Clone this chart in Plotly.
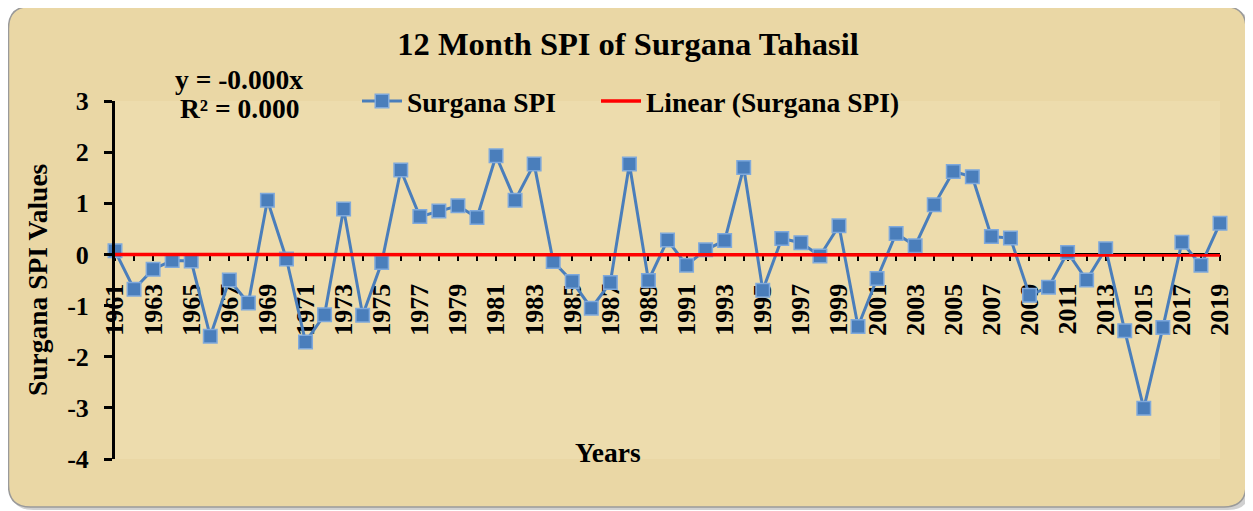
import numpy as np
import plotly.graph_objects as go

years = list(range(1961, 2020))
spi = [0.07, -0.68, -0.29, -0.12, -0.13, -1.60, -0.50, -0.95, 1.06, -0.09,
       -1.71, -1.18, 0.89, -1.19, -0.16, 1.65, 0.74, 0.85, 0.95, 0.72,
       1.93, 1.06, 1.77, -0.14, -0.53, -1.05, -0.55, 1.77, -0.51, 0.28,
       -0.21, 0.09, 0.27, 1.70, -0.70, 0.31, 0.23, -0.03, 0.56, -1.41,
       -0.47, 0.41, 0.17, 0.97, 1.62, 1.52, 0.35, 0.32, -0.80, -0.64,
       0.04, -0.50, 0.11, -1.49, -3.01, -1.43, 0.24, -0.21, 0.61]
y_ticks = [-4, -3, -2, -1, 0, 1, 2, 3]
y_tick_labels = ["-4", "-3", "-2", "-1", "0", "1", "2", "3"]

title_text = "12 Month SPI of Surgana Tahasil"
series_name = "Surgana SPI"
trend_name = "Linear (Surgana SPI)"
y_title = "Surgana SPI Values"
x_title = "Years"
eq_line1 = "y = -0.000x"
eq_line2 = "R² = 0.000"

# Linear trend through origin (Excel style, x = 1..n)
idx = np.arange(1, len(spi) + 1)
vals = np.array(spi)
slope = float((idx * vals).sum() / (idx * idx).sum())
trend = list(slope * idx)

FONT = "Times New Roman, Liberation Serif, serif"
OFF = 8  # page body margin
W, H = 1245, 503
# plot area in screen pixels
SX0, SX1, SY0, SY1 = 115, 1220, 101, 459
L, R, T, B = SX0 - OFF, OFF + W - SX1, SY0 - OFF, OFF + H - SY1
PW, PH = SX1 - SX0, SY1 - SY0


def px_x(p):
    return (p - SX0) / PW


def px_y(p):
    return (SY1 - p) / PH


def rounded_rect(x0, y0, x1, y1, r):
    rx = r / PW
    ry = r / PH
    a, b, c, d = px_x(x0), px_y(y0), px_x(x1), px_y(y1)
    return (f"M {a+rx},{b} L {c-rx},{b} Q {c},{b} {c},{b-ry} "
            f"L {c},{d+ry} Q {c},{d} {c-rx},{d} L {a+rx},{d} "
            f"Q {a},{d} {a},{d+ry} L {a},{b-ry} Q {a},{b} {a+rx},{b} Z")


fig = go.Figure()
fig.add_trace(go.Scatter(
    x=years, y=spi, name=f"<b>{series_name}</b>", mode="lines+markers",
    line=dict(color="#4A7EBB", width=3),
    marker=dict(symbol="square", size=13.5, color="#4A7EBB",
                line=dict(color="#7FA9DC", width=1.5)),
    cliponaxis=False, legend="legend",
))
fig.add_trace(go.Scatter(
    x=years, y=trend, name=f"<b>{trend_name}</b>", mode="lines",
    line=dict(color="#FF0000", width=3.5),
    cliponaxis=False, legend="legend2",
))

shapes = [
    dict(type="path", xref="paper", yref="paper", layer="below",
         path=rounded_rect(11, 9, 1250, 510, 22),
         fillcolor="rgba(120,120,120,0.35)", line=dict(width=0)),
    dict(type="path", xref="paper", yref="paper", layer="below",
         path=rounded_rect(8.5, 6.5, 1246, 507, 22),
         fillcolor="#EAD7A5", line=dict(color="#9A9A9A", width=1.5)),
    dict(type="rect", xref="paper", yref="paper", layer="below",
         x0=0, x1=1, y0=0, y1=1, fillcolor="#EDDCAD", line=dict(width=0)),
]

legend_common = dict(orientation="h", xanchor="left", yanchor="middle",
                     y=px_y(101), bgcolor="rgba(0,0,0,0)",
                     font=dict(family=FONT, size=27.5, color="black"),
                     itemwidth=40)

fig.update_layout(
    width=W, height=H,
    margin=dict(l=L, r=R, t=T, b=B, autoexpand=False),
    paper_bgcolor="white",
    plot_bgcolor="rgba(0,0,0,0)",
    font=dict(family=FONT, color="black", size=24),
    title=dict(text=f"<b>{title_text}</b>", x=(628 - OFF) / W, xanchor="center",
               y=1 - (44 - OFF) / H, yanchor="middle",
               font=dict(family=FONT, size=32.5, color="black")),
    showlegend=True,
    legend=dict(x=px_x(357), **legend_common),
    legend2=dict(x=px_x(596), **legend_common),
    shapes=shapes,
    annotations=[
        dict(text=f"<b>{eq_line1}</b>", xref="paper", yref="paper",
             x=px_x(239), y=px_y(80), xanchor="center", yanchor="middle",
             showarrow=False,
             font=dict(family=FONT, size=27.5, color="black")),
        dict(text=f"<b>{eq_line2}</b>", xref="paper", yref="paper",
             x=px_x(239), y=px_y(109), xanchor="center", yanchor="middle",
             showarrow=False,
             font=dict(family=FONT, size=27.5, color="black")),
        dict(text=f"<b>{y_title}</b>", xref="paper", yref="paper",
             x=px_x(37), y=px_y(280), xanchor="center", yanchor="middle",
             textangle=-90, showarrow=False,
             font=dict(family=FONT, size=27.5, color="black")),
        dict(text=f"<b>{x_title}</b>", xref="paper", yref="paper",
             x=px_x(608), y=px_y(452), xanchor="center", yanchor="middle",
             showarrow=False,
             font=dict(family=FONT, size=27.5, color="black")),
    ],
)

fig.update_xaxes(
    range=[1961, 2019], showgrid=False, zeroline=False,
    anchor="free", position=4 / 7, layer="below traces",
    showline=True, linecolor="black", linewidth=2,
    tickmode="linear", tick0=1961, dtick=2,
    ticks="outside", ticklen=6, tickwidth=2, tickcolor="black",
    minor=dict(dtick=1, ticks="outside", ticklen=6, tickwidth=2, tickcolor="black"),
    tickangle=-90, ticklabelstandoff=12,
    tickfont=dict(family=FONT, size=26, color="black"),
    tickprefix="<b>", ticksuffix="</b>",
)
fig.update_yaxes(
    range=[-4, 3], tickmode="array", tickvals=y_ticks,
    ticktext=[f"<b>{t}</b>" for t in y_tick_labels],
    showgrid=False, zeroline=False,
    showline=True, linecolor="black", linewidth=3,
    ticks="outside", ticklen=8, tickwidth=3, tickcolor="black",
    ticklabelstandoff=10,
    tickfont=dict(family=FONT, size=26, color="black"),
)

fig.write_html("out.html")
